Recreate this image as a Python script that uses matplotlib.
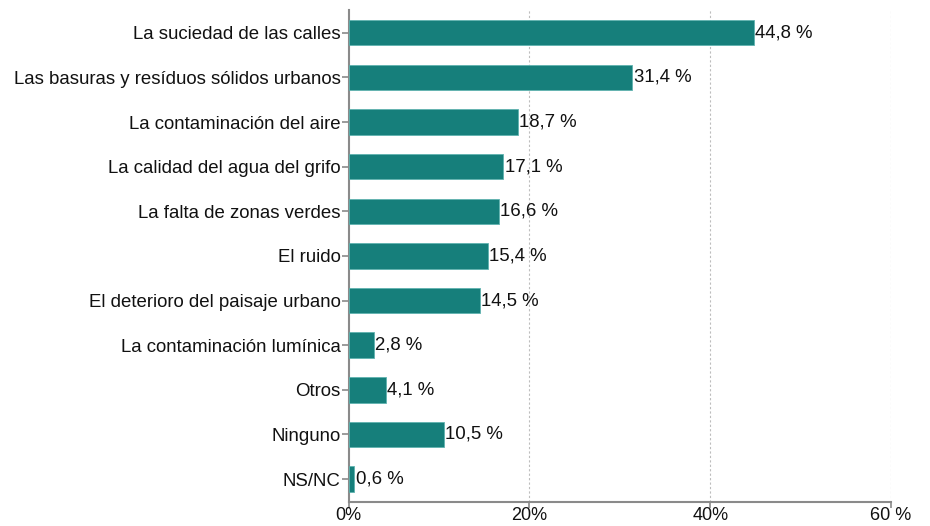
import matplotlib.pyplot as plt
import numpy as np

plt.rcParams['font.family'] = ['Liberation Sans', 'DejaVu Sans']

categories = ['La suciedad de las calles',
              'Las basuras y resíduos sólidos urbanos',
              'La contaminación del aire',
              'La calidad del agua del grifo',
              'La falta de zonas verdes',
              'El ruido',
              'El deterioro del paisaje urbano',
              'La contaminación lumínica',
              'Otros',
              'Ninguno',
              'NS/NC']
values = [44.8, 31.4, 18.7, 17.1, 16.6, 15.4, 14.5, 2.8, 4.1, 10.5, 0.6]
xticks = [0, 20, 40, 60]
xticklabels = ['0%', '20%', '40%', '60 %']

teal = '#167f7b'
grey = '#8a8a8a'
fs = 13.4

fig = plt.figure(figsize=(9.3, 5.26), dpi=100)
ax = fig.add_axes([0.375, 0.046, 0.583, 0.935])

y = np.arange(len(categories))
ax.barh(y, values, height=0.57, color=teal, edgecolor='#5fb3b0', linewidth=0.6, zorder=3)
for yi, v in zip(y, values):
    ax.text(v + 0.15, yi, f'{v:.1f} %'.replace('.', ','), va='center', ha='left',
            fontsize=fs, color='#111111', zorder=4)

ax.set_ylim(len(categories) - 0.49, -0.51)
ax.set_xlim(0, 60)
ax.set_yticks(y)
ax.set_yticklabels(categories, fontsize=fs, color='#111111')
ax.set_xticks(xticks)
ax.set_xticklabels(xticklabels, fontsize=13, color='#111111')

for x in xticks[1:]:
    ax.axvline(x, color='#bdbdbd', linestyle=(0, (2, 2)), linewidth=0.8, zorder=1)

for s in ['top', 'right']:
    ax.spines[s].set_visible(False)
for s in ['left', 'bottom']:
    ax.spines[s].set_color(grey)
    ax.spines[s].set_linewidth(1.5)
ax.tick_params(axis='y', colors=grey, length=5, width=1.2, labelcolor='#111111', pad=1)
ax.tick_params(axis='x', colors=grey, length=4, width=1.2, labelcolor='#111111', pad=0)

fig.savefig('out.png', dpi=100)
